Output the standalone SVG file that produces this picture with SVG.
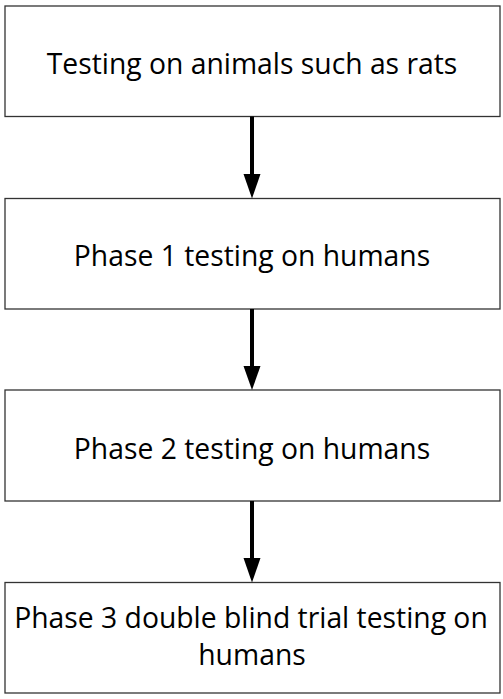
<svg xmlns="http://www.w3.org/2000/svg" width="503" height="699" viewBox="0 0 503 699">
<defs>
<style>
.box{fill:#fff;stroke:#333;stroke-width:1.3}
.lbl{font-family:"Open Sans","Noto Sans",sans-serif;font-size:28.3px;fill:#000;text-anchor:middle}
.conn{stroke:#000;stroke-width:4;fill:none}
</style>
</defs>
<rect width="503" height="699" fill="#fff"/>
<g id="node1"><rect class="box" x="5" y="6" width="495" height="110.5"/><text class="lbl" x="252" y="74">Testing on animals such as rats</text></g>
<g id="node2"><rect class="box" x="5" y="198.5" width="495" height="110.5"/><text class="lbl" x="252" y="266">Phase 1 testing on humans</text></g>
<g id="node3"><rect class="box" x="5" y="390" width="495" height="111"/><text class="lbl" x="252" y="458.5">Phase 2 testing on humans</text></g>
<g id="node4"><rect class="box" x="5" y="582.5" width="495" height="110.5"/><text class="lbl" x="251" y="628">Phase 3 double blind trial testing on</text><text class="lbl" x="252" y="665">humans</text></g>
<g id="connectors">
<path class="conn" d="M252,116.5 V176" /><path d="M243.5,174 L260.5,174 L252,198.5 Z" fill="#000"/>
<path class="conn" d="M252,309 V368" /><path d="M243.5,366 L260.5,366 L252,390 Z" fill="#000"/>
<path class="conn" d="M252,501 V560" /><path d="M243.5,558 L260.5,558 L252,582.5 Z" fill="#000"/>
</g>
</svg>
